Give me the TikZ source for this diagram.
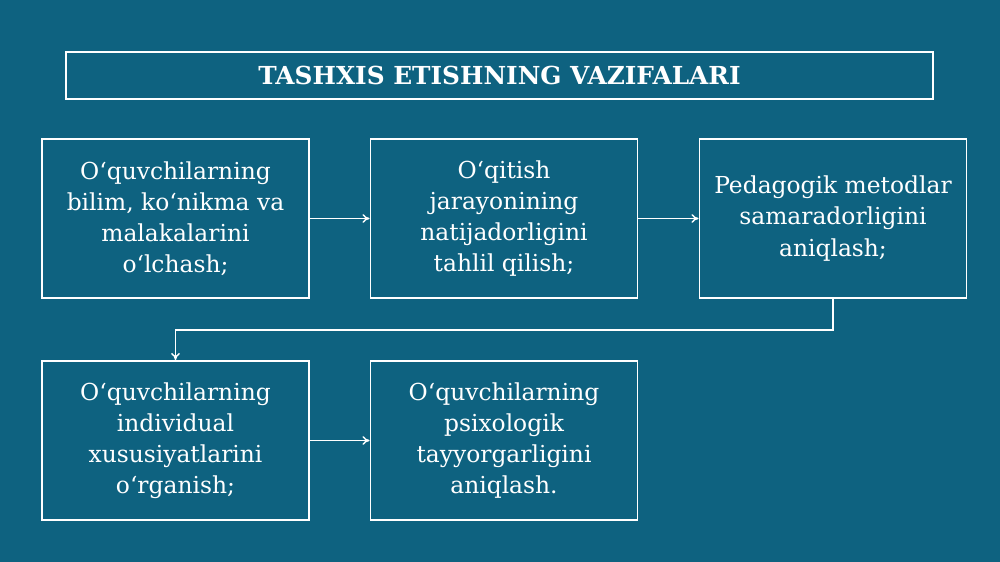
\documentclass[tikz,border=0pt]{standalone}
\usepackage{fontspec}
\setmainfont{DejaVu Serif}
\usepackage{xcolor}
\usetikzlibrary{arrows.meta}

\definecolor{slidebg}{RGB}{14,98,128}

\tikzset{
  taskbox/.style={draw=white, line width=1.1pt, minimum width=5.34cm, minimum height=3.18cm,
    align=center, text=white, font=\fontsize{13.3}{17.7}\selectfont},
  flow/.style={draw=white, line width=0.8pt, -{To[length=4pt,width=5pt]}}
}

\begin{document}
\begin{tikzpicture}
    % Background of the slide
    \fill [slidebg] (0,0) rectangle (20,-11.24);
    \useasboundingbox (0,0) rectangle (20,-11.24);

    % Title
    \node [draw=white, line width=1.1pt, minimum width=17.34cm, minimum height=0.94cm,
      text=white, font=\bfseries\fontsize{14.1}{16}\selectfont] (title) at (9.99,-1.51)
      {TASHXIS ETISHNING VAZIFALARI};

    % Define the boxes
    \node [taskbox] (T1) at (3.51,-4.37) {O‘quvchilarning\\bilim, ko‘nikma va\\malakalarini\\o‘lchash;};
    \node [taskbox] (T2) at (10.08,-4.37) {O‘qitish\\jarayonining\\natijadorligini\\tahlil qilish;};
    \node [taskbox] (T3) at (16.66,-4.37) {Pedagogik metodlar\\samaradorligini\\aniqlash;};
    \node [taskbox] (T4) at (3.51,-8.81) {O‘quvchilarning\\individual\\xususiyatlarini\\o‘rganish;};
    \node [taskbox] (T5) at (10.08,-8.81) {O‘quvchilarning\\psixologik\\tayyorgarligini\\aniqlash.};

    % Draw the arrows
    \draw [flow] (T1) -- (T2);
    \draw [flow] (T2) -- (T3);
    \draw [flow] (T3.south) -- ++(0,-0.62) -| (T4.north);
    \draw [flow] (T4) -- (T5);

\end{tikzpicture}
\end{document}
